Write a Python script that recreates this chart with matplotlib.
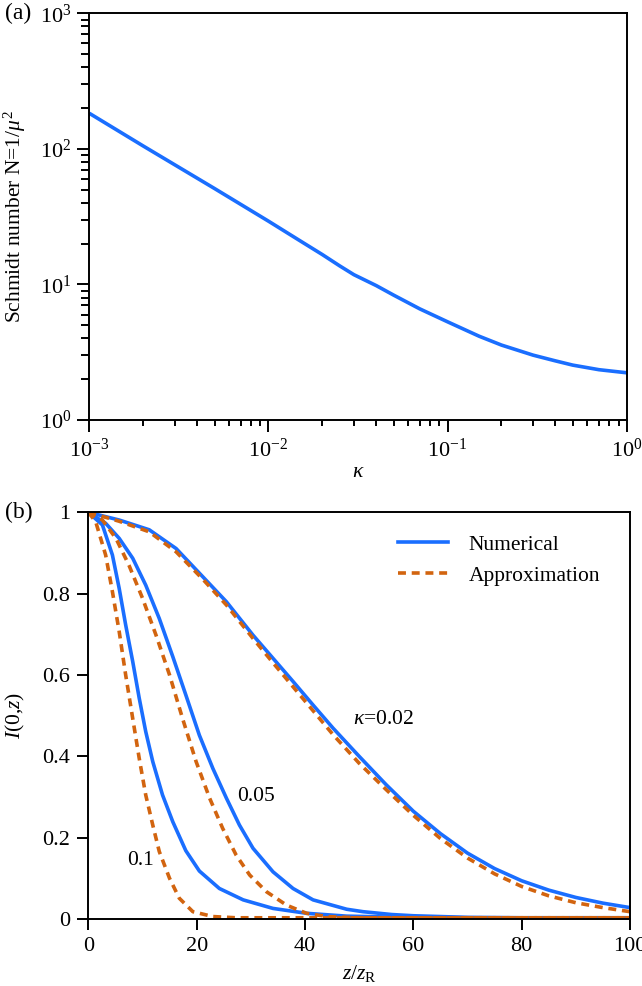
import matplotlib
matplotlib.use("Agg")
import matplotlib.pyplot as plt
from matplotlib.lines import Line2D

plt.rcParams['font.family'] = ['Liberation Serif', 'DejaVu Serif']
plt.rcParams['mathtext.fontset'] = 'custom'
plt.rcParams['mathtext.rm'] = 'Liberation Serif'
plt.rcParams['mathtext.it'] = 'Liberation Serif:italic'
plt.rcParams['mathtext.bf'] = 'Liberation Serif:bold'
plt.rcParams['font.size'] = 15.5

# ---------------- data: panel (a) ----------------
kappa = [0.001, 0.002, 0.005, 0.01, 0.015, 0.02, 0.025, 0.03, 0.04, 0.05, 0.07, 0.1,
         0.15, 0.2, 0.3, 0.4, 0.5, 0.7, 1.0]
schmidt_N = [183, 105, 51, 29.3, 21.0, 16.6, 13.7, 11.8, 9.8, 8.34, 6.6, 5.3,
             4.15, 3.57, 3.01, 2.73, 2.54, 2.35, 2.23]

# ---------------- data: panel (b) ----------------
z_num02 = [0, 5.7, 11.25, 16.2, 21.1, 25.5, 30.4, 34.1, 37.8, 41.5, 45.2, 50, 55,
           60, 65, 70, 75, 80, 85, 90, 95, 100]
I_num02 = [1, 0.981, 0.957, 0.911, 0.842, 0.780, 0.698, 0.641, 0.584, 0.526, 0.469, 0.40,
           0.33, 0.265, 0.21, 0.162, 0.124, 0.094, 0.071, 0.053, 0.039, 0.028]
z_app02 = [0, 5.7, 11.25, 16.2, 21.1, 25.5, 30.4, 34.1, 37.8, 41.5, 45.2, 50, 55,
           60, 65, 70, 75, 80, 85, 90, 95, 100]
I_app02 = [1, 0.978, 0.952, 0.903, 0.836, 0.772, 0.690, 0.630, 0.571, 0.512, 0.453, 0.383,
           0.318, 0.255, 0.198, 0.15, 0.111, 0.08, 0.057, 0.04, 0.028, 0.018]

z_num05 = [0, 3.2, 5.7, 8.2, 10.6, 13.1, 15.6, 18.0, 20.5, 23.0, 25.5, 27.9, 30.4, 34.1, 37.8,
           41.5, 47.7, 50.7, 56, 60, 65, 70, 80, 100]
I_num05 = [1, 0.973, 0.936, 0.887, 0.821, 0.739, 0.645, 0.551, 0.452, 0.370, 0.297, 0.231,
           0.174, 0.116, 0.075, 0.047, 0.024, 0.018, 0.011, 0.008, 0.006, 0.004, 0.003, 0.003]
z_app05 = [0, 2.6, 5.1, 7.5, 10.0, 12.5, 15.0, 17.4, 19.9, 22.4, 24.8, 27.3, 29.8, 32.9, 36.6,
           40.3, 44.0, 50, 100]
I_app05 = [1, 0.981, 0.936, 0.870, 0.789, 0.698, 0.600, 0.493, 0.387, 0.297, 0.223, 0.157,
           0.108, 0.067, 0.034, 0.014, 0.006, 0.003, 0.003]

z_num10 = [0, 2.6, 4.45, 5.7, 6.9, 8.2, 9.4, 10.6, 11.9, 13.7, 15.6, 18.0, 20.5, 24.2, 28.6,
           34.1, 40.3, 47.7, 55, 63, 70, 100]
I_num10 = [1, 0.969, 0.895, 0.813, 0.723, 0.633, 0.543, 0.461, 0.387, 0.305, 0.239, 0.168,
           0.118, 0.075, 0.047, 0.026, 0.014, 0.007, 0.005, 0.004, 0.003, 0.003]
z_app10 = [0, 1.36, 3.2, 4.45, 5.7, 6.9, 8.2, 9.4, 10.6, 11.9, 13.1, 15.0, 16.8, 19.3, 23.0,
           27.3, 100]
I_app10 = [1, 0.977, 0.895, 0.805, 0.707, 0.600, 0.493, 0.395, 0.305, 0.231, 0.166, 0.100,
           0.051, 0.018, 0.006, 0.003, 0.003]

curve_labels = ["$\\kappa$=0.02", "0.05", "0.1"]
label_pos = [(48.9, 0.49), (27.4, 0.30), (7.1, 0.144)]
legend_labels = ["Numerical", "Approximation"]

yticks_b = [0, 0.2, 0.4, 0.6, 0.8, 1]
yticklabels_b = ["0", "0.2", "0.4", "0.6", "0.8", "1"]
xticks_b = [0, 20, 40, 60, 80, 100]
xticklabels_b = ["0", "20", "40", "60", "80", "100"]

BLUE = '#1a6eff'
ORANGE = '#d2640f'
LW = 2.6
DASH = (2.2, 1.6)
FS = 15.5
TFS = 16

W, H = 642, 986
fig = plt.figure(figsize=(W / 100, H / 100), dpi=100)

def fx(px):
    return px / W

def fy(py):
    return 1 - py / H

# ---------------- panel (a) ----------------
ax1 = fig.add_axes([fx(89.3), fy(420), fx(626.7) - fx(89.3), fy(13.3) - fy(420)])
ax1.plot(kappa, schmidt_N, color=BLUE, lw=LW, solid_capstyle='butt')
ax1.set_xscale('log')
ax1.set_yscale('log')
ax1.set_xlim(1e-3, 1)
ax1.set_ylim(1, 1e3)
ax1.set_xticks([1e-3, 1e-2, 1e-1, 1])
ax1.set_xticklabels(["$10^{-3}$", "$10^{-2}$", "$10^{-1}$", "$10^{0}$"])
ax1.set_yticks([1, 10, 100, 1000])
ax1.set_yticklabels(["$10^{0}$", "$10^{1}$", "$10^{2}$", "$10^{3}$"])
ax1.tick_params(which='both', direction='out', top=False, right=False, width=1.4, labelsize=TFS)
ax1.tick_params(which='major', length=8.5)
ax1.tick_params(axis='x', which='major', pad=5)
ax1.tick_params(axis='y', which='major', pad=4.5)
ax1.tick_params(axis='y', which='minor', length=5.5)
ax1.tick_params(axis='x', which='minor', length=4)
for s in ax1.spines.values():
    s.set_linewidth(1.4)
ax1.set_xlabel("$\\kappa$", fontsize=FS)
ax1.xaxis.set_label_coords(0.5, -0.128)
ax1.xaxis.label.set_va('center')
ax1.set_ylabel("Schmidt number N=1/$\\mu^2$", fontsize=FS)
ax1.yaxis.set_label_coords(-0.138, 0.5)
ax1.yaxis.label.set_va('center')

# ---------------- panel (b) ----------------
ax2 = fig.add_axes([fx(88.3), fy(919), fx(630) - fx(88.3), fy(512.3) - fy(919)])
for z, I in [(z_num02, I_num02), (z_num05, I_num05), (z_num10, I_num10)]:
    ax2.plot(z, I, color=BLUE, lw=LW)
for z, I in [(z_app02, I_app02), (z_app05, I_app05), (z_app10, I_app10)]:
    ax2.plot(z, I, color=ORANGE, lw=LW, dashes=DASH)
ax2.set_xlim(0, 100)
ax2.set_ylim(0, 1)
ax2.set_xticks(xticks_b)
ax2.set_xticklabels(xticklabels_b)
ax2.set_yticks(yticks_b)
ax2.set_yticklabels(yticklabels_b)
ax2.tick_params(direction='out', top=False, right=False, width=1.4, length=7.8, pad=5.5,
                labelsize=TFS)
for s in ax2.spines.values():
    s.set_linewidth(1.4)
ax2.set_xlabel("$z$/$z_\\mathrm{R}$", fontsize=FS)
ax2.xaxis.set_label_coords(0.5, -0.133)
ax2.xaxis.label.set_va('center')
ax2.set_ylabel("$I$(0,$z$)", fontsize=FS)
ax2.yaxis.set_label_coords(-0.135, 0.5)
ax2.yaxis.label.set_va('center')

for txt, (x, y) in zip(curve_labels, label_pos):
    ax2.text(x, y, txt, ha='left', va='center', fontsize=FS)

handles = [Line2D([], [], color=BLUE, lw=LW),
           Line2D([], [], color=ORANGE, lw=LW, dashes=DASH)]
ax2.legend(handles, legend_labels, loc='upper left', bbox_to_anchor=(0.572, 0.945),
           frameon=False, borderpad=0, borderaxespad=0, handlelength=2.33,
           handletextpad=0.93, labelspacing=0.5, fontsize=FS)

fig.text(fx(5), fy(13), "(a)", ha='left', va='center', fontsize=17)
fig.text(fx(5), fy(512), "(b)", ha='left', va='center', fontsize=17)

fig.savefig("out.png", dpi=100)
